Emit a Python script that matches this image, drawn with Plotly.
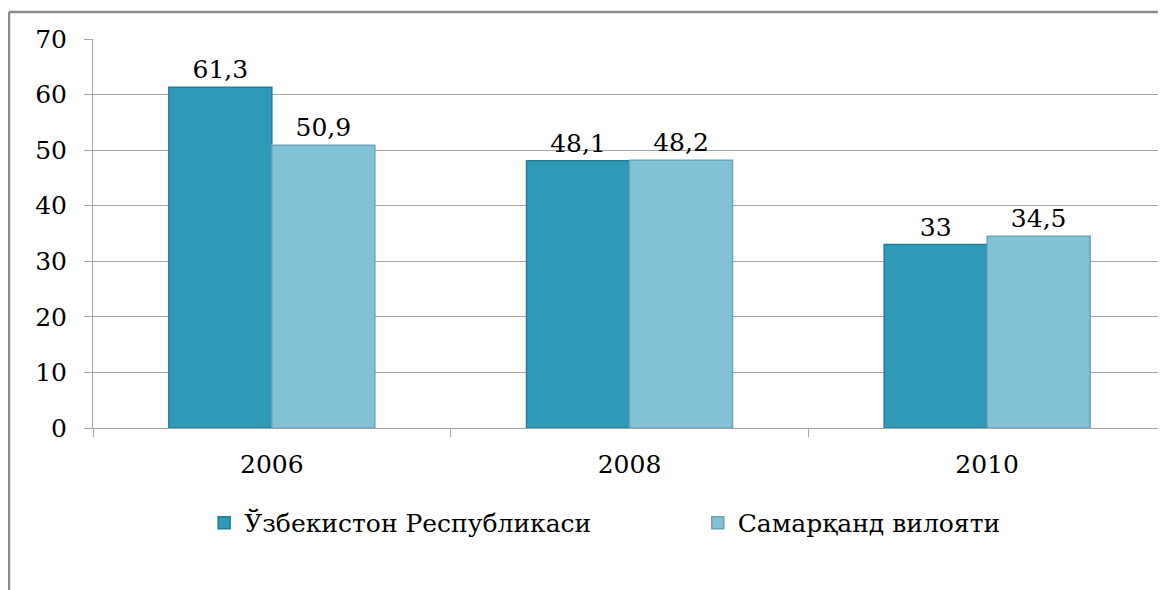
import plotly.graph_objects as go

years = ["2006", "2008", "2010"]
series_names = ["Ўзбекистон Республикаси", "Самарқанд вилояти"]
uzb = [61.3, 48.1, 33.0]
sam = [50.9, 48.2, 34.5]
y_ticks = [0, 10, 20, 30, 40, 50, 60, 70]

def fmt(v):
    s = f"{v:.1f}".replace(".", ",")
    return s[:-2] if s.endswith(",0") else s

FONT = "DejaVu Serif"
FS = 25

fig = go.Figure()
fig.add_trace(go.Bar(
    x=years, y=uzb, name=series_names[0], legend="legend",
    text=[fmt(v) for v in uzb], textposition="outside",
    marker=dict(color="#2F9AB7", line=dict(color="#237E96", width=1.5)),
    textfont=dict(family=FONT, size=FS, color="black"), cliponaxis=False,
))
fig.add_trace(go.Bar(
    x=years, y=sam, name=series_names[1], legend="legend2",
    text=[fmt(v) for v in sam], textposition="outside",
    marker=dict(color="#82C2D7", line=dict(color="#6AA5B8", width=1.5)),
    textfont=dict(family=FONT, size=FS, color="black"), cliponaxis=False,
))

# page has an 8px body margin
W, H = 1158, 582
L, R, T, B = 85, 0, 31, 162
pw, ph = W - L - R, H - T - B
bx = (1 - L) / pw
by = 1 + (T - 4) / ph

leg = dict(orientation="h", xanchor="left", y=-0.244, yanchor="middle",
           font=dict(family=FONT, size=FS), itemwidth=30)
fig.update_layout(
    width=W, height=H,
    margin=dict(l=L, r=R, t=T, b=B),
    paper_bgcolor="white", plot_bgcolor="white",
    barmode="group", bargap=0.424, bargroupgap=0,
    font=dict(family=FONT, size=FS, color="black"),
    showlegend=True,
    legend=dict(leg, x=0.1036),
    legend2=dict(leg, x=0.5636),
    shapes=[
        dict(type="line", xref="paper", yref="paper", x0=bx, x1=1.01, y0=by, y1=by,
             line=dict(color="#8C8C8C", width=2.5)),
        dict(type="line", xref="paper", yref="paper", x0=bx, x1=bx, y0=by, y1=-0.5,
             line=dict(color="#8C8C8C", width=2.5)),
    ],
)
fig.update_yaxes(
    range=[0, 70], tickvals=y_ticks, showgrid=True, gridcolor="#A6A6A6", gridwidth=1,
    showline=True, linecolor="#A6A6A6", linewidth=1, ticks="outside", ticklen=8,
    tickcolor="#A6A6A6", ticklabelstandoff=12, zeroline=False,
    tickfont=dict(family=FONT, size=FS),
)
fig.update_xaxes(
    showline=True, linecolor="#A6A6A6", linewidth=1, ticks="outside", ticklen=8,
    tickcolor="#A6A6A6", tickson="boundaries", showgrid=False, ticklabelstandoff=14,
    tickfont=dict(family=FONT, size=FS),
)
fig.write_html("out.html")
